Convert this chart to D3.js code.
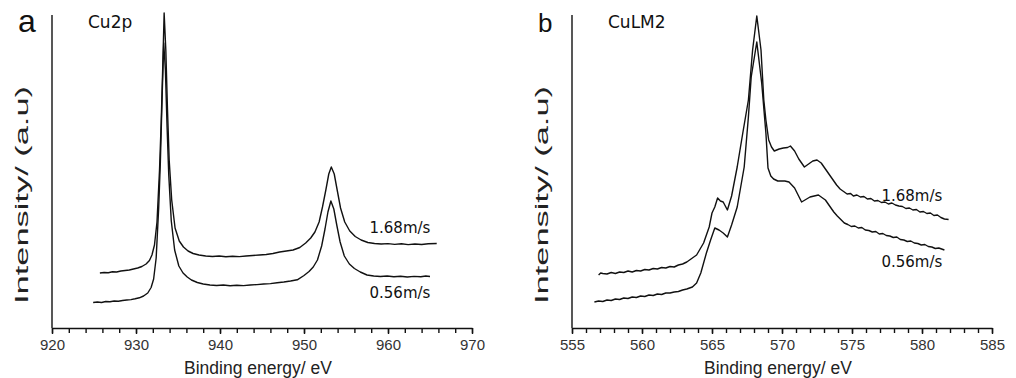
<!DOCTYPE html>
<html>
<head>
<meta charset="utf-8">
<script src="https://cdn.jsdelivr.net/npm/d3@7"></script>
<style>
  body{margin:0;background:#fff;}
  svg text{font-family:"Liberation Sans",Arial,sans-serif;}
  .axis path,.axis line{stroke:#111;stroke-width:1.4px;}
  .axis text{fill:#333;font-size:15px;}
</style>
</head>
<body>
<div id="chart"></div>
<script>
// binding energy (eV), intensity (a.u.)
const cu2p_168 = [[925.7,55],[926.2,55.5],[926.7,55.2],[927.2,56.2],[927.7,56],[928.2,57],[928.7,57.5],[929.2,58],[929.7,59],[930.2,60],[930.7,61.5],[931.2,64],[931.6,67.5],[931.9,73],[932.2,83],[932.5,106],[932.8,158],[933.0,206],[933.2,266],[933.35,315],[933.55,278],[933.75,218],[933.95,168],[934.25,128],[934.65,100],[935.15,87],[935.65,81],[936.2,77],[936.8,74.5],[937.5,73],[938.3,72],[939.1,71.5],[939.9,72],[940.7,71.2],[941.5,71.8],[942.3,71.4],[943.1,72],[943.9,72.5],[944.7,73],[945.5,73.5],[946.3,74.5],[947.1,76],[947.9,77],[948.7,78],[949.5,80.5],[950.2,85],[950.8,90],[951.3,96],[951.8,106],[952.2,121],[952.6,138],[952.95,154],[953.25,161],[953.6,154],[953.95,138],[954.35,120],[954.85,106],[955.45,97],[956.1,91.5],[956.8,88],[957.6,85.5],[958.4,84.5],[959.2,84],[960.0,84.4],[960.8,83.6],[961.6,84.2],[962.4,83.4],[963.2,84],[964.0,83.5],[964.8,84.2],[965.8,84.5]];

const cu2p_056 = [[924.9,25.5],[925.4,26],[925.9,25.5],[926.4,26.5],[926.9,26.2],[927.4,27],[927.9,26.8],[928.4,27.5],[928.9,28],[929.4,28.4],[929.9,29.2],[930.4,30.2],[930.9,32],[931.4,35],[931.8,40.5],[932.1,49],[932.4,70],[932.7,120],[932.9,166],[933.1,228],[933.3,285],[933.5,258],[933.7,201],[933.9,153],[934.2,107],[934.6,78],[935.1,62],[935.6,55],[936.1,51],[936.6,48],[937.3,45.5],[938.0,44],[938.8,43],[939.6,42.5],[940.4,43],[941.2,42.2],[942.0,42.8],[942.8,42.4],[943.6,43],[944.4,43.4],[945.2,44],[946.0,44.4],[946.8,45.2],[947.6,46],[948.4,47],[949.2,48.2],[950.0,52.5],[950.6,56.5],[951.1,61],[951.6,68],[952.1,82],[952.5,99],[952.85,116],[953.2,127],[953.55,119],[953.9,103],[954.3,86],[954.8,72],[955.4,64],[956.0,59.5],[956.7,56],[957.5,53],[958.3,52],[959.1,51.5],[959.9,52],[960.7,51.2],[961.5,51.8],[962.3,51],[963.1,51.6],[963.9,51.2],[964.5,52],[965.0,51.5]];

const culm2_168 = [[556.9,53],[557.05,55],[557.2,54.5],[557.5,54],[557.8,55.5],[558.1,54.5],[558.4,56],[558.7,55.5],[559.0,57],[559.3,56],[559.6,57.5],[559.9,57],[560.2,58.5],[560.5,58],[560.8,59.5],[561.1,59],[561.4,60.5],[561.7,60],[562.0,61.5],[562.3,61],[562.6,63],[562.9,64],[563.2,66],[563.5,69],[563.9,73],[564.4,85],[564.8,101],[565.0,115],[565.2,121],[565.4,130],[565.6,127],[565.8,126],[566.1,118],[566.4,132],[566.8,161],[567.2,195],[567.6,228],[567.9,278],[568.2,312],[568.5,278],[568.7,228],[568.85,208],[569.05,188],[569.25,181],[569.45,177],[569.8,179],[570.1,180],[570.4,180.5],[570.6,182],[570.9,177],[571.2,169],[571.6,161],[571.9,164],[572.2,167],[572.5,168],[572.8,165],[573.1,159],[573.5,151],[573.9,143],[574.15,139],[574.4,136.5],[574.65,134],[574.9,134.5],[575.1,132],[575.35,133],[575.6,131],[575.85,131.5],[576.1,129],[576.35,129.5],[576.6,127],[576.85,127.5],[577.1,125.5],[577.35,126],[577.6,124],[577.85,125],[578.1,123],[578.35,122],[578.6,121.5],[578.85,119.5],[579.1,120],[579.35,118],[579.6,118.5],[579.85,116],[580.1,116.5],[580.35,114.5],[580.6,115],[580.85,112.5],[581.1,113],[581.35,110.5],[581.6,109],[581.9,108.5]];

const culm2_056 = [[556.6,26],[556.9,27],[557.2,26.5],[557.5,28],[557.8,27.5],[558.1,29],[558.4,28.5],[558.7,30],[559.0,29.5],[559.3,31],[559.6,30.5],[559.9,32],[560.2,31.5],[560.5,33],[560.8,32.5],[561.1,34],[561.4,33.5],[561.7,35],[562.0,35],[562.3,36],[562.6,36.5],[562.9,38],[563.2,39],[563.6,41],[563.9,45],[564.2,55],[564.6,75],[564.9,88],[565.2,100],[565.5,98],[565.8,95],[566.1,91],[566.4,103],[566.8,121],[567.3,161],[567.6,211],[567.8,251],[568.2,286],[568.55,245],[568.85,195],[569.0,160],[569.2,152],[569.4,149],[569.7,147],[570.2,147],[570.5,146],[570.9,140],[571.4,126],[572.0,131],[572.6,133],[573.1,128],[573.7,116],[573.95,112],[574.2,108.5],[574.45,105],[574.7,103.5],[574.95,101.5],[575.2,102],[575.45,100],[575.7,100.5],[575.95,98],[576.2,97.5],[576.45,96],[576.7,96.5],[576.95,94],[577.2,94.5],[577.45,92.5],[577.7,92],[577.95,90.5],[578.2,91],[578.45,88.5],[578.7,88],[578.95,86.5],[579.2,87],[579.45,85],[579.7,84.5],[579.95,83],[580.2,83.5],[580.45,81.5],[580.7,81],[580.95,79.5],[581.2,80],[581.6,78]];

const cu2pTicks = [920,930,940,950,960,970];
const culm2Ticks = [555,560,565,570,575,580,585];

const opt={width:1016,height:378,top:15,bottom:328,yMax:313}

const svg=d3.select("#chart")
  .append("svg")
  .attr("width",opt.width)
  .attr("height",opt.height)

function panel(p){
  const xScale=d3.scaleLinear()
    .domain(p.domain)
    .range([p.left,p.right])
  const yScale=d3.scaleLinear()
    .domain([0,opt.yMax])
    .range([opt.bottom,opt.top])

  const g=svg.append("g")

  // minor ticks
  g.append("g")
    .attr("class","axis")
    .attr("transform","translate(0,"+opt.bottom+")")
    .call(d3.axisBottom(xScale).tickValues(d3.range(p.domain[0],p.domain[1]+0.001,p.minor)).tickSize(5).tickFormat(""))
    .call(a=>a.select(".domain").remove())

  g.append("g")
    .attr("class","axis")
    .attr("transform","translate(0,"+opt.bottom+")")
    .call(d3.axisBottom(xScale).tickValues(p.ticks).tickSize(6).tickSizeOuter(0).tickPadding(5).tickFormat(d3.format("d")))

  g.append("line")
    .attr("x1",p.left).attr("x2",p.left)
    .attr("y1",opt.top).attr("y2",opt.bottom)
    .attr("stroke","#111").attr("stroke-width",1.4)

  const line=d3.line()
    .x(d=>xScale(d[0]))
    .y(d=>yScale(d[1]))

  p.series.forEach(s=>{
    g.append("path")
      .datum(s)
      .attr("d",line)
      .attr("fill","none")
      .attr("stroke","#111")
      .attr("stroke-width",1.4)
      .attr("stroke-linejoin","round")
  })

  p.labels.forEach(l=>{
    g.append("text")
      .attr("x",xScale(l.x)).attr("y",yScale(l.y))
      .style("font-family","'DejaVu Sans',Verdana,sans-serif")
      .attr("font-size",15)
      .attr("fill","#111")
      .text(l.text)
  })

  g.append("text")
    .attr("x",(p.left+p.right)/2-4)
    .attr("y",374)
    .attr("text-anchor","middle")
    .attr("font-size",17.5)
    .attr("fill","#222")
    .text("Binding energy/ eV")

  g.append("text")
    .attr("transform","translate("+(p.left-30)+",195) rotate(-90)")
    .attr("text-anchor","middle")
    .attr("dy","0.35em")
    .attr("font-size",18)
    .attr("textLength",218)
    .attr("lengthAdjust","spacingAndGlyphs")
    .attr("fill","#222")
    .text("Intensity/ (a.u)")

  g.append("text")
    .attr("x",p.left-34).attr("y",32)
    .attr("font-size",p.letterSize)
    .attr("fill","#111")
    .text(p.letter)

  g.append("text")
    .attr("x",p.left+36).attr("y",28)
    .style("font-family","'DejaVu Sans',Verdana,sans-serif")
    .attr("font-size",17)
    .attr("fill","#111")
    .text(p.title)
}

panel({domain:[920,970],left:52,right:472,minor:2,ticks:cu2pTicks,
  series:[cu2p_168,cu2p_056],letter:"a",letterSize:32,title:"Cu2p",
  labels:[{x:957.8,y:95,text:"1.68m/s"},{x:957.8,y:30,text:"0.56m/s"}]})

panel({domain:[555,585],left:572,right:992,minor:1,ticks:culm2Ticks,
  series:[culm2_168,culm2_056],letter:"b",letterSize:26,title:"CuLM2",
  labels:[{x:577.1,y:127,text:"1.68m/s"},{x:577.1,y:61,text:"0.56m/s"}]})
</script>
</body>
</html>
